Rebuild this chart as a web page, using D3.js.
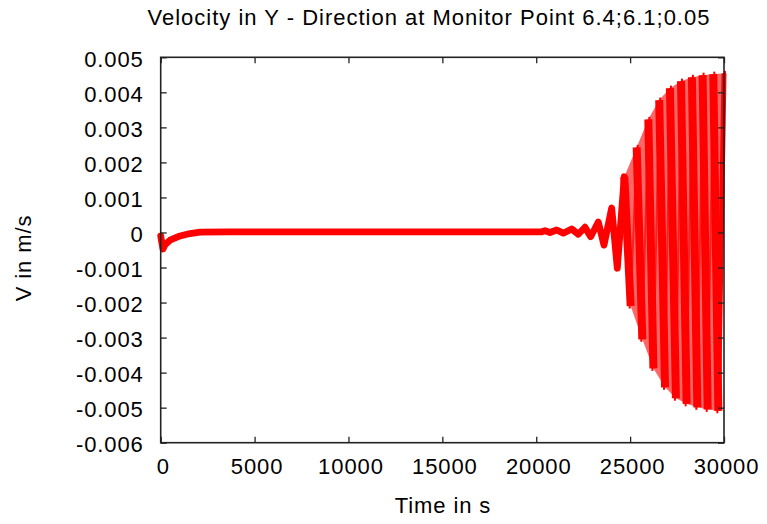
<!DOCTYPE html>
<html>
<head>
<meta charset="utf-8">
<script src="https://cdn.jsdelivr.net/npm/d3@7"></script>
<style>
  html, body { margin: 0; padding: 0; background: #fff; }
  svg { display: block; }
  text { font-family: "Liberation Sans", Arial, sans-serif; fill: #000; }
</style>
</head>
<body>
<svg id="chart" width="767" height="524"></svg>
<script>
// ---- data ----
const titleText = "Velocity in Y - Direction at Monitor Point 6.4;6.1;0.05";
const xLabel = "Time in s";
const yLabel = "V in m/s";
const xTicks = [0, 5000, 10000, 15000, 20000, 25000, 30000];
const yTicks = [-0.006, -0.005, -0.004, -0.003, -0.002, -0.001, 0, 0.001, 0.002, 0.003, 0.004, 0.005];
const yTickLabels = ["-0.006", "-0.005", "-0.004", "-0.003", "-0.002", "-0.001", "0", "0.001", "0.002", "0.003", "0.004", "0.005"];

// early transient, quiet phase and onset of the oscillation
const earlyTime = [0, 120, 230, 495, 1030, 1560, 2090, 3690, 20300, 20467, 20733, 21090, 21441, 21889, 22240, 22597, 22900, 23305, 23609, 24019, 24317];
const earlyV    = [-0.0001, -0.00047, -0.00035, -0.00022, -0.0001, -0.00003, 0.00001, 0.00002, 0.00002, 0.00005, 0.0, 0.00007, -0.00002, 0.0001, -0.00005, 0.00015, -0.00012, 0.0003, -0.00036, 0.0007, -0.00102];

// grown oscillation: maxima and the minima that follow them
const peakTime   = [24690, 25350, 25970, 26550, 27120, 27710, 28290, 28860, 29430, 30000];
const peakV      = [0.00159, 0.00243, 0.00323, 0.00378, 0.00412, 0.00432, 0.00443, 0.00449, 0.00452, 0.00454];
const troughTime = [25030, 25650, 26240, 26860, 27440, 28010, 28580, 29130, 29700];
const troughV    = [-0.0021, -0.00305, -0.00388, -0.00442, -0.00473, -0.00489, -0.00499, -0.00505, -0.00509];

// ---- layout ----
const plot = { left: 160.7, right: 724, top: 57.3, bottom: 442.7 };
const svg = d3.select("#chart");
const x = d3.scaleLinear().domain([0, 30000]).range([plot.left, plot.right]);
const y = d3.scaleLinear().domain([-0.006, 0.005]).range([plot.bottom, plot.top]);

const fontSize = 22, ls = 0.9;

// title
svg.append("text")
  .attr("x", 429).attr("y", 25)
  .attr("text-anchor", "middle")
  .style("font-size", fontSize + "px").style("letter-spacing", "1px")
  .text(titleText);

// data marks
const red = "#ff0000";
const line = d3.line().x(d => x(d[0])).y(d => y(d[1]));

// envelope of the grown oscillation (dense strokes between maxima and minima)
const env = peakTime.map((t, i) => [t, peakV[i]])
  .concat(troughTime.map((t, i) => [t, troughV[i]]).reverse());
svg.append("path")
  .attr("d", line(env) + "Z")
  .attr("fill", red).attr("fill-opacity", 0.6).attr("stroke", "none");

const early = earlyTime.map((t, i) => [t, earlyV[i]]);
early.push([peakTime[0], peakV[0]]);
svg.append("path")
  .attr("d", line(early))
  .attr("fill", "none").attr("stroke", red)
  .attr("stroke-width", 6.8).attr("stroke-linejoin", "round").attr("stroke-linecap", "round");

// zigzag through maxima and minima (thin rising strokes)
const zig = [];
peakTime.forEach((t, i) => {
  zig.push([t, peakV[i]]);
  if (i < troughTime.length) zig.push([troughTime[i], troughV[i]]);
});
svg.append("path")
  .attr("d", line(zig))
  .attr("fill", "none").attr("stroke", red).attr("stroke-opacity", 0.7)
  .attr("stroke-width", 2).attr("stroke-linejoin", "bevel");

// thick falling strokes (peak -> following trough)
svg.append("g").selectAll("line")
  .data(troughTime.map((t, i) => ({ t0: peakTime[i], v0: peakV[i], t1: t, v1: troughV[i] })))
  .join("line")
  .attr("x1", d => x(d.t0)).attr("y1", d => y(d.v0))
  .attr("x2", d => x(d.t1)).attr("y2", d => y(d.v1))
  .attr("stroke", red).attr("stroke-width", 8).attr("stroke-linecap", "butt");
// small spikes at the maxima and minima
svg.append("g").selectAll("line")
  .data(peakTime.map((t, i) => ({ t, v: peakV[i] })))
  .join("line")
  .attr("x1", d => x(d.t) + 1).attr("x2", d => x(d.t) + 1)
  .attr("y1", d => y(d.v) - 2.5).attr("y2", d => y(d.v) + 2)
  .attr("stroke", red).attr("stroke-width", 2);
svg.append("g").selectAll("line")
  .data(troughTime.map((t, i) => ({ t, v: troughV[i] })))
  .join("line")
  .attr("x1", d => x(d.t) - 1).attr("x2", d => x(d.t) - 1)
  .attr("y1", d => y(d.v) - 2).attr("y2", d => y(d.v) + 2.5)
  .attr("stroke", red).attr("stroke-width", 2);
// final rising stroke to the last maximum, drawn solid
svg.append("line")
  .attr("x1", x(troughTime[troughTime.length - 1])).attr("y1", y(troughV[troughV.length - 1]))
  .attr("x2", x(peakTime[peakTime.length - 1])).attr("y2", y(peakV[peakV.length - 1]))
  .attr("stroke", red).attr("stroke-width", 5);

// axes (border box with mirrored inward ticks)
const axisColor = "#222";
const tickLen = 6;
const gAx = svg.append("g");
gAx.append("rect")
  .attr("x", plot.left).attr("y", plot.top)
  .attr("width", plot.right - plot.left).attr("height", plot.bottom - plot.top)
  .attr("fill", "none").attr("stroke", axisColor).attr("stroke-width", 1.6);

const bottomAxis = d3.axisBottom(x).tickValues(xTicks).tickSize(-tickLen).tickFormat(d3.format("d"));
const topAxis = d3.axisTop(x).tickValues(xTicks).tickSize(-tickLen).tickFormat("");
const leftAxis = d3.axisLeft(y).tickValues(yTicks).tickSize(-tickLen).tickFormat((d, i) => yTickLabels[i]);
const rightAxis = d3.axisRight(y).tickValues(yTicks).tickSize(-tickLen).tickFormat("");

function styleAxis(g) {
  g.select(".domain").remove();
  g.selectAll(".tick line").attr("stroke", axisColor).attr("stroke-width", 1.3);
  g.selectAll(".tick text")
    .style("font-size", fontSize + "px").style("letter-spacing", ls + "px")
    .attr("fill", "#000");
}
gAx.append("g").attr("transform", `translate(0,${plot.bottom})`).call(bottomAxis).call(styleAxis)
  .selectAll(".tick text").attr("dy", null).attr("y", 31).attr("dx", 2);
gAx.append("g").attr("transform", `translate(0,${plot.top})`).call(topAxis).call(styleAxis);
gAx.append("g").attr("transform", `translate(${plot.left},0)`).call(leftAxis).call(styleAxis)
  .selectAll(".tick text").attr("x", -17).attr("dy", "0.4em");
gAx.append("g").attr("transform", `translate(${plot.right},0)`).call(rightAxis).call(styleAxis);

// axis labels
svg.append("text")
  .attr("x", 443).attr("y", 513)
  .attr("text-anchor", "middle")
  .style("font-size", fontSize + "px").style("letter-spacing", ls + "px")
  .text(xLabel);
svg.append("text")
  .attr("transform", "translate(31,258) rotate(-90)")
  .attr("text-anchor", "middle")
  .style("font-size", fontSize + "px").style("letter-spacing", ls + "px")
  .text(yLabel);
</script>
</body>
</html>
